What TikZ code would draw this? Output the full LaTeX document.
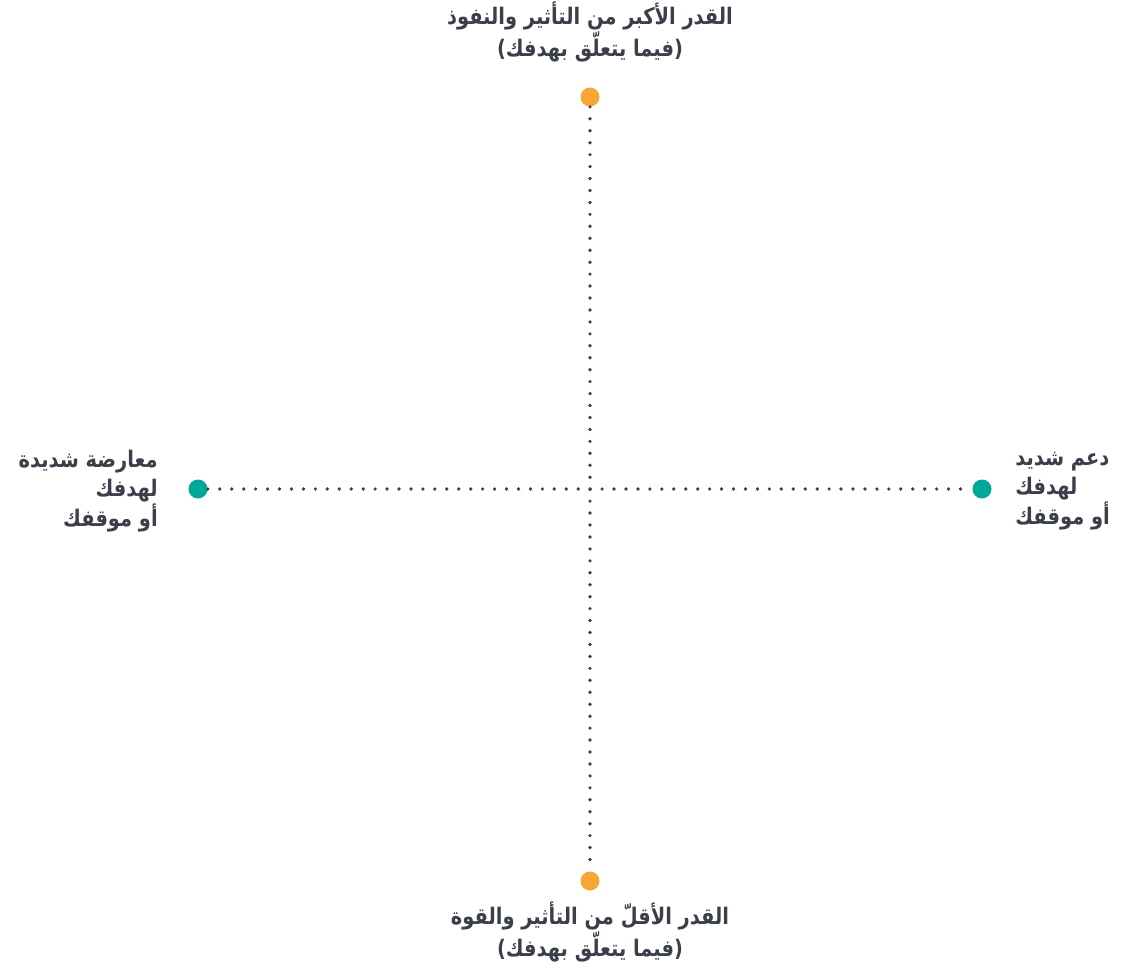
\documentclass[tikz,border=0pt]{standalone}
\usepackage{fontspec}
\newfontfamily\arabicfont[Script=Arabic,FakeStretch=0.85]{DejaVu Sans}
\TeXXeTstate=1
\definecolor{inkgray}{HTML}{3A3F4B}
\definecolor{dotorange}{HTML}{F9A533}
\definecolor{dotteal}{HTML}{00A89C}
\begin{document}
\begin{tikzpicture}[x=0.02cm,y=-0.02cm,
           end_orange/.style={circle,fill=dotorange,inner sep=0pt,minimum size=0.38cm},
           end_teal/.style={circle,fill=dotteal,inner sep=0pt,minimum size=0.38cm},
           axis_style/.style={draw=inkgray,line width=2.1pt,line cap=round,dash pattern=on 0pt off 6.8pt},
           label_style/.style={text=inkgray,font=\arabicfont\bfseries\fontsize{13}{17}\selectfont,inner sep=0pt}]
            \useasboundingbox (0,0) rectangle (1127,971);
            \node[end_orange] (top) at (590, 97) {};
            \node[end_orange] (bottom) at (590, 881) {};
            \node[end_teal] (left) at (198, 489) {};
            \node[end_teal] (right) at (982, 489) {};
            \draw[axis_style] (top) -- (bottom);
            \draw[axis_style] (left) -- (right);
            \node[label_style,align=center] (toptext) at (590, 32) {\beginR القدر الأكبر من التأثير والنفوذ\endR\\\beginR (فيما يتعلّق بهدفك)\endR};
            \node[label_style,align=center] (bottomtext) at (590, 932) {\beginR القدر الأقلّ من التأثير والقوة\endR\\\beginR (فيما يتعلّق بهدفك)\endR};
            \node[label_style,align=right,anchor=east] (lefttext) at (158, 491) {\beginR معارضة شديدة\endR\\\beginR لهدفك\endR\\\beginR أو موقفك\endR};
            \node[label_style,align=left,anchor=west] (righttext) at (1015, 491) {\beginR دعم شديد\endR\\\beginR لهدفك\endR\\\beginR أو موقفك\endR};
        \end{tikzpicture}
\end{document}
